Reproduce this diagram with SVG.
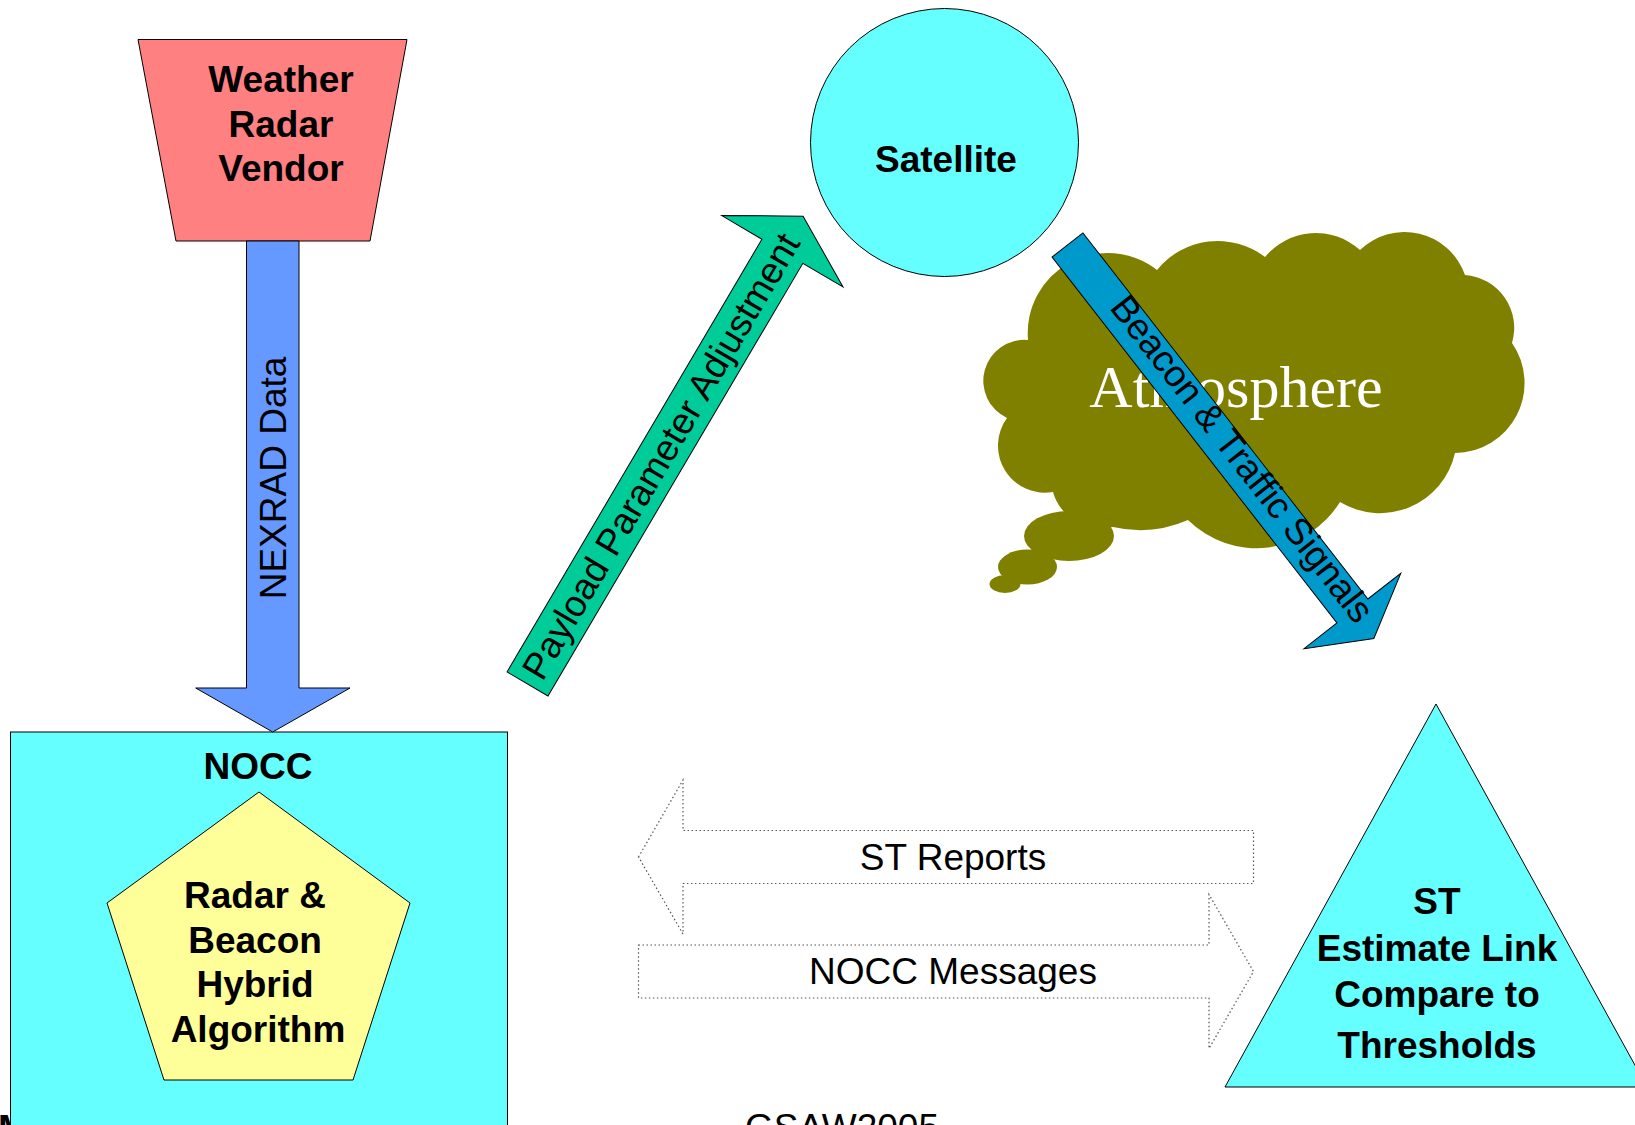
<svg xmlns="http://www.w3.org/2000/svg" width="1635" height="1125" viewBox="0 0 1635 1125">
<style>
.s{stroke:#000;stroke-width:1}
.t{font-family:"Liberation Sans",Arial,sans-serif;font-size:37px;fill:#000}
.b{font-weight:bold}
.c{text-anchor:middle}
.dot{fill:none;stroke:#555;stroke-width:1.2;stroke-dasharray:1.5 2.5}
</style>
<rect width="1635" height="1125" fill="#fff"/>
<g id="footer">
<text class="t b" x="-2" y="1141">M</text>
<text class="t c" x="842" y="1140">GSAW2005</text>
</g>
<g id="weather-radar-vendor">
<polygon class="s" fill="#FF8080" points="138,39.5 407,39.5 370,241 176,241"/>
<text class="t b c"><tspan x="281" y="92">Weather</tspan><tspan x="281" y="137">Radar</tspan><tspan x="281" y="181">Vendor</tspan></text>
</g>
<g id="nocc">
<rect class="s" fill="#66FFFF" x="10.5" y="732" width="497" height="420"/>
<text class="t b c" x="258" y="779">NOCC</text>
</g>
<g id="hybrid-algorithm">
<polygon class="s" fill="#FFFF99" points="259,792 410,903 353,1080 164,1080 107,903"/>
<text class="t b c"><tspan x="255" y="908">Radar &amp;</tspan><tspan x="255" y="953">Beacon</tspan><tspan x="255" y="997">Hybrid</tspan><tspan x="258" y="1042">Algorithm</tspan></text>
</g>
<g id="satellite">
<circle class="s" fill="#66FFFF" cx="944.5" cy="142.5" r="134"/>
<text class="t b c" x="946" y="172">Satellite</text>
</g>
<g id="atmosphere">
<path fill="#808000" d="M1007,418 A41,41 0 0 1 1028,340 A80,80 0 0 1 1157,270 A78,78 0 0 1 1265,257 A66,66 0 0 1 1360,250 A64,64 0 0 1 1465,275 A53,53 0 0 1 1512,343 A70,70 0 0 1 1455,453 A77,77 0 0 1 1340,502 A98,98 0 0 1 1188,520 A120,120 0 0 1 1113,527 A50,50 0 0 1 1053,492 A47,47 0 0 1 1007,418 Z"/>
<ellipse fill="#808000" cx="1069" cy="536" rx="45" ry="25"/>
<ellipse fill="#808000" cx="1027.5" cy="567" rx="29.5" ry="17.5"/>
<ellipse fill="#808000" cx="1005" cy="584" rx="15.5" ry="9"/>
<text x="1236" y="407" fill="#fff" font-family="'Liberation Serif','Times New Roman',serif" font-size="60" text-anchor="middle">Atmosphere</text>
</g>
<g id="st-terminal">
<polygon class="s" fill="#66FFFF" points="1436,704 1647,1087 1225,1087"/>
<text class="t b c"><tspan x="1437" y="914">ST</tspan><tspan x="1437" y="961">Estimate Link</tspan><tspan x="1437" y="1007">Compare to</tspan><tspan x="1437" y="1058">Thresholds</tspan></text>
</g>
<g id="connectors">
<g id="nexrad-data">
<polygon class="s" fill="#6699FF" points="246.5,241 299,241 299,688 350,688 272.7,732 195.7,688 246.5,688"/>
<text class="t c" transform="translate(286,478) rotate(-90)" x="0" y="0">NEXRAD Data</text>
</g>
<g id="payload-parameter-adjustment" transform="translate(527.5,684) rotate(-59.5)">
<polygon class="s" fill="#00CC99" points="0,-23.75 502.2,-23.75 502.2,-70.35 543,0 502.2,70.35 502.2,23.75 0,23.75"/>
<text class="t c" x="264" y="12">Payload Parameter Adjustment</text>
</g>
<g id="beacon-traffic-signals" transform="translate(1067.5,245) rotate(52.1)">
<polygon class="s" fill="#0099CC" points="0,-19.6 463.8,-19.6 463.8,-61.3 498.7,0 463.8,61.3 463.8,19.6 0,19.6"/>
<text class="t c" x="276" y="6" font-size="38">Beacon &amp; Traffic Signals</text>
</g>
<g id="st-reports">
<polygon class="dot" points="638.5,857 683,780 683,830.5 1253.5,830.5 1253.5,883.5 683,883.5 683,934"/>
<text class="t c" x="953" y="870">ST Reports</text>
</g>
<g id="nocc-messages">
<polygon class="dot" points="638.5,945 1209,945 1209,894.5 1253.5,971.5 1209,1048.5 1209,998 638.5,998"/>
<text class="t c" x="953" y="984">NOCC Messages</text>
</g>
</g>
</svg>
